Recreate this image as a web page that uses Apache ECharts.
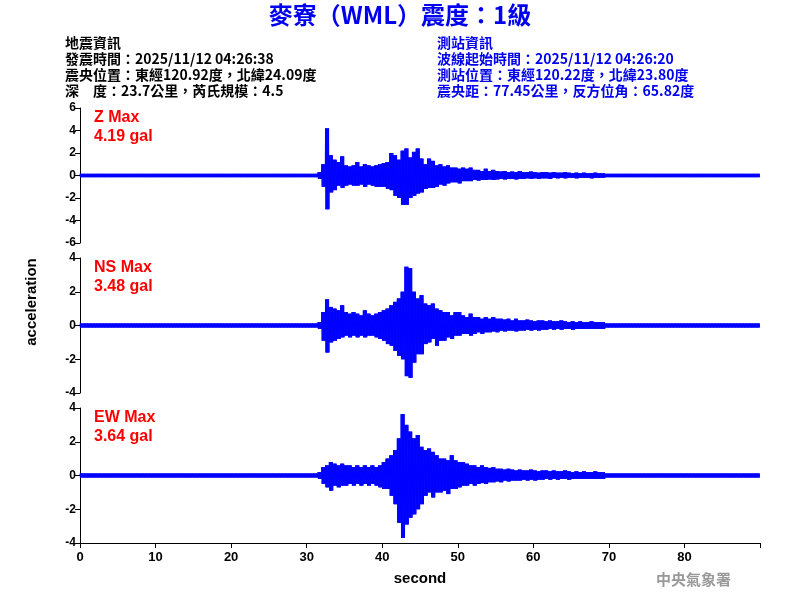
<!DOCTYPE html>
<html>
<head>
<meta charset="UTF-8" />
<script src="https://cdn.jsdelivr.net/npm/echarts@6/dist/echarts.min.js"></script>
<style>body{margin:0}#main{width:800px;height:600px}</style>
</head>
<body>
<div id="main"></div>
<script>
// envelope peaks, every 0.5 s from 31.5 s to 69.5 s
var eventStart = 31.5;
var zUpper = [0.3,1.0,4.19,1.8,1.4,1.2,1.7,0.9,0.8,0.9,1.2,0.8,1.0,0.9,0.8,0.9,1.0,1.1,1.2,2.0,1.8,1.4,2.2,2.4,1.6,2.1,2.4,1.5,1.0,1.5,1.3,0.9,1.0,0.8,0.9,0.7,0.7,0.6,0.7,0.6,0.7,0.5,0.5,0.4,0.6,0.4,0.5,0.4,0.35,0.4,0.3,0.35,0.3,0.4,0.3,0.3,0.35,0.3,0.25,0.3,0.3,0.25,0.3,0.25,0.25,0.3,0.25,0.2,0.25,0.2,0.25,0.2,0.2,0.25,0.2,0.2];
var zLower = [-0.3,-1.0,-3.0,-1.5,-1.3,-0.9,-1.1,-0.9,-0.8,-0.9,-0.9,-0.8,-1.0,-0.8,-0.9,-1.0,-1.0,-1.0,-1.2,-1.3,-1.8,-2.0,-2.6,-2.6,-2.0,-1.8,-1.6,-1.5,-1.2,-1.1,-1.1,-1.0,-0.8,-0.9,-0.7,-0.6,-0.6,-0.7,-0.5,-0.5,-0.5,-0.4,-0.45,-0.4,-0.4,-0.35,-0.4,-0.35,-0.3,-0.35,-0.3,-0.3,-0.35,-0.3,-0.3,-0.25,-0.3,-0.25,-0.3,-0.25,-0.25,-0.3,-0.2,-0.25,-0.2,-0.25,-0.2,-0.2,-0.25,-0.2,-0.2,-0.2,-0.25,-0.2,-0.2,-0.2];
var nsUpper = [0.2,0.8,1.55,1.1,1.0,0.9,1.2,0.8,0.7,0.8,0.7,0.6,0.9,0.7,0.6,0.7,0.8,0.9,1.0,1.2,1.4,1.6,2.0,3.48,3.4,2.0,1.6,1.8,1.3,1.2,1.3,1.0,0.9,0.8,0.8,0.6,0.8,0.8,0.6,0.5,0.7,0.5,0.5,0.4,0.5,0.4,0.5,0.4,0.4,0.35,0.4,0.3,0.4,0.3,0.3,0.35,0.3,0.25,0.3,0.3,0.25,0.3,0.25,0.25,0.3,0.25,0.2,0.25,0.2,0.25,0.2,0.2,0.25,0.2,0.2,0.2];
var nsLower = [-0.2,-0.9,-1.6,-1.0,-0.9,-0.8,-0.7,-0.6,-0.7,-0.6,-0.7,-0.6,-0.7,-0.6,-0.6,-0.7,-0.8,-0.9,-1.1,-1.2,-1.5,-1.8,-2.0,-3.0,-3.1,-2.2,-1.7,-1.7,-1.1,-1.0,-0.8,-1.2,-0.9,-0.9,-0.7,-0.8,-0.6,-0.6,-0.5,-0.5,-0.6,-0.5,-0.4,-0.5,-0.4,-0.4,-0.35,-0.4,-0.3,-0.35,-0.3,-0.3,-0.35,-0.3,-0.3,-0.25,-0.3,-0.25,-0.3,-0.25,-0.25,-0.2,-0.25,-0.2,-0.25,-0.2,-0.2,-0.25,-0.2,-0.2,-0.2,-0.2,-0.2,-0.2,-0.2,-0.2];
var ewUpper = [0.2,0.5,0.6,0.8,0.7,0.6,0.7,0.6,0.6,0.5,0.6,0.5,0.6,0.5,0.6,0.5,0.6,0.8,1.0,1.2,1.5,2.2,3.64,3.0,2.6,2.2,2.4,1.7,1.5,1.6,1.4,1.2,1.0,1.0,0.9,1.2,0.9,0.8,0.8,0.7,0.6,0.6,0.5,0.6,0.5,0.45,0.5,0.4,0.4,0.35,0.4,0.35,0.3,0.35,0.3,0.3,0.35,0.3,0.25,0.3,0.3,0.25,0.3,0.25,0.25,0.3,0.25,0.2,0.25,0.2,0.25,0.2,0.2,0.25,0.2,0.2];
var ewLower = [-0.2,-0.5,-0.7,-0.9,-0.6,-0.7,-0.6,-0.6,-0.5,-0.6,-0.5,-0.6,-0.5,-0.6,-0.5,-0.6,-0.7,-0.8,-0.8,-1.2,-1.7,-2.8,-3.7,-2.9,-2.5,-2.3,-2.0,-1.7,-1.2,-1.0,-1.3,-1.0,-1.0,-0.9,-1.1,-0.8,-0.8,-0.7,-0.6,-0.6,-0.5,-0.6,-0.5,-0.45,-0.5,-0.4,-0.4,-0.35,-0.4,-0.3,-0.35,-0.3,-0.3,-0.3,-0.25,-0.3,-0.25,-0.3,-0.25,-0.25,-0.2,-0.25,-0.2,-0.25,-0.2,-0.2,-0.25,-0.2,-0.2,-0.2,-0.2,-0.2,-0.2,-0.2,-0.2,-0.2];
var noiseLevel = [0.15, 0.12, 0.12];
var panelNames = ["Z Max", "NS Max", "EW Max"];
var panelPeaks = ["4.19 gal", "3.48 gal", "3.64 gal"];
var yRanges = [6, 4, 4];

// each 0.5 s bin is held at its read peak values, swinging up and down every 0.05 s
function trace(up, lo, noise) {
  var d = [], t, s;
  function bin(t0, u, l) {
    for (s = 0; s < 5; s++) { d.push([t0 + s * 0.1, u]); d.push([t0 + s * 0.1 + 0.05, l]); }
  }
  for (t = 0; t < eventStart; t += 0.5) bin(t, noise, -noise);
  for (var i = 0; i < up.length; i++) bin(eventStart + i * 0.5, up[i], lo[i]);
  for (t = eventStart + up.length * 0.5; t < 90; t += 0.5) bin(t, noise, -noise);
  return d;
}

var tops = [108, 258, 408];
var ups = [zUpper, nsUpper, ewUpper], los = [zLower, nsLower, ewLower];
var grids = [], xAxes = [], yAxes = [], series = [];
var axisFont = { color: "#000", fontSize: 12, fontWeight: "bold", fontFamily: "Liberation Sans" };
for (var k = 0; k < 3; k++) {
  grids.push({ left: 80, width: 680, top: tops[k], height: 135 });
  xAxes.push({
    gridIndex: k, type: "value", min: 0, max: 90, interval: 10,
    show: k === 2,
    axisLine: { onZero: false, lineStyle: { color: "#000" } },
    axisTick: { lineStyle: { color: "#000" } },
    axisLabel: Object.assign({ formatter: function (v) { return v > 80 ? "" : v; } }, axisFont, { fontSize: 13 }),
    splitLine: { show: false },
    name: k === 2 ? "second" : "", nameLocation: "middle", nameGap: 28,
    nameTextStyle: { color: "#000", fontSize: 15, fontWeight: "bold", fontFamily: "Liberation Sans" }
  });
  yAxes.push({
    gridIndex: k, type: "value", min: -yRanges[k], max: yRanges[k], interval: 2,
    axisLine: { show: true, lineStyle: { color: "#000" } },
    axisTick: { show: true, lineStyle: { color: "#000" } },
    axisLabel: Object.assign({ margin: 4 }, axisFont),
    splitLine: { show: false }
  });
  series.push({
    type: "line", xAxisIndex: k, yAxisIndex: k, showSymbol: false, sampling: false,
    lineStyle: { color: "#0000ff", width: 1 }, data: trace(ups[k], los[k], noiseLevel[k])
  });
}

var redFont = { fill: "#ff0000", font: "bold 16px Liberation Sans" };
var graphics = [
  { type: "text", left: "center", top: 3, style: { text: "麥寮（WML）震度：1級", fill: "#0000ee", font: "bold 24px 'Noto Sans CJK TC'" } },
  { type: "text", left: 65, top: 35, style: { text: "地震資訊\n發震時間：2025/11/12 04:26:38\n震央位置：東經120.92度，北緯24.09度\n深　度：23.7公里，芮氏規模：4.5", fill: "#000", font: "bold 14px 'Noto Sans CJK TC'", lineHeight: 16 } },
  { type: "text", left: 437, top: 35, style: { text: "測站資訊\n波線起始時間：2025/11/12 04:26:20\n測站位置：東經120.22度，北緯23.80度\n震央距：77.45公里，反方位角：65.82度", fill: "#0000ee", font: "bold 14px 'Noto Sans CJK TC'", lineHeight: 16 } },
  { type: "text", x: 32, y: 302, rotation: Math.PI / 2, style: { text: "acceleration", fill: "#000", font: "bold 15px Liberation Sans", align: "center", verticalAlign: "middle" } },
  { type: "text", left: 656, top: 572, style: { text: "中央氣象署", fill: "#999", font: "bold 15px 'Noto Sans CJK TC'" } }
];
for (var j = 0; j < 3; j++) {
  graphics.push({ type: "text", left: 94, top: tops[j] + 2, style: Object.assign({ text: panelNames[j] }, redFont) });
  graphics.push({ type: "text", left: 94, top: tops[j] + 21, style: Object.assign({ text: panelPeaks[j] }, redFont) });
}

var chart = echarts.init(document.getElementById("main"));
chart.setOption({
  animation: false,
  backgroundColor: "#fff",
  grid: grids, xAxis: xAxes, yAxis: yAxes, series: series,
  graphic: graphics
});
</script>
</body>
</html>
